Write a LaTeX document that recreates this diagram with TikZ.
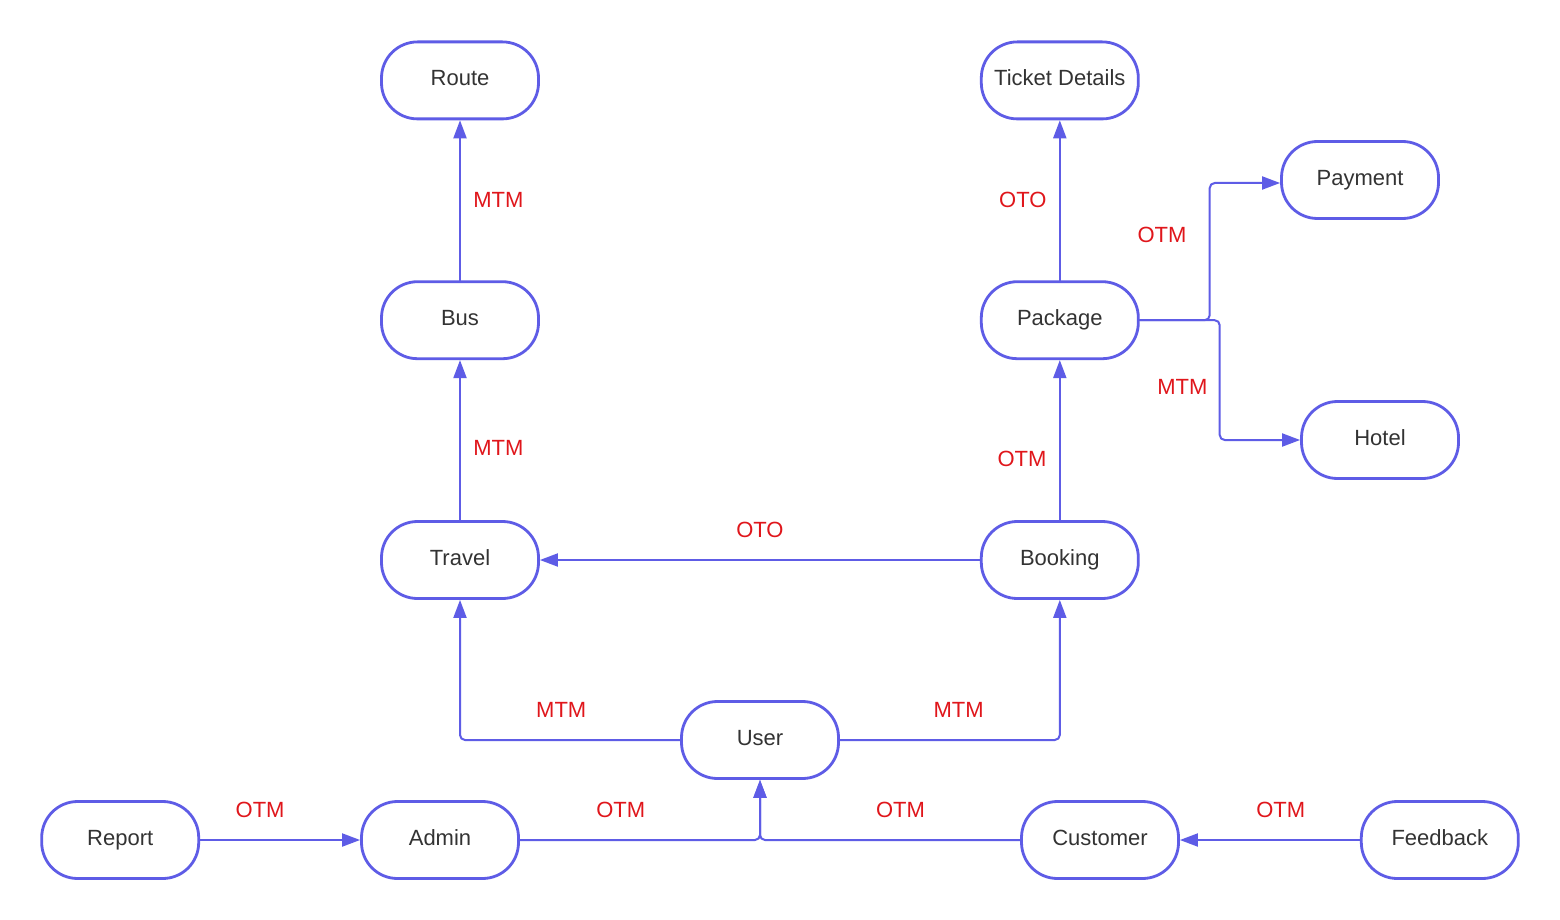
\documentclass[tikz,border=0pt]{standalone}
\usepackage{fontspec}
\setmainfont{Liberation Sans}
\usetikzlibrary{arrows.meta,positioning}

\definecolor{edgeblue}{HTML}{5E5CE6}
\definecolor{labelred}{HTML}{E0161B}
\definecolor{textgray}{HTML}{333333}

\begin{document}
\begin{tikzpicture}[
    x=1pt, y=-1pt,
    >={Triangle[length=18pt,width=13pt]},
    font=\fontsize{22}{26}\selectfont,
    line join=round,
    line cap=round,
    entity/.style={
        draw=edgeblue,
        line width=2.8pt,
        rectangle,
        rounded corners=36pt,
        minimum width=157pt,
        minimum height=77pt,
        text height=15.5pt,
        text depth=4.5pt,
        fill=white,
        text=textgray
    },
    link/.style={->, draw=edgeblue, line width=2pt, rounded corners=5pt},
    card/.style={text=labelred}
]

\fill[white] (0,0) rectangle (1560,920);
\useasboundingbox (0,0) rectangle (1560,920);

% =========================
% Entities
% =========================
\node[entity] (travel) at (460,560) {Travel};
\node[entity, above=160pt of travel] (bus) {Bus};
\node[entity, above=160pt of bus] (route) {Route};

\node[entity, right=440pt of travel] (booking) {Booking};
\node[entity, above=160pt of booking] (package) {Package};
\node[entity, above=160pt of package] (ticket) {Ticket Details};

\node[entity] (payment) at (1360,180) {Payment};
\node[entity] (hotel) at (1380,440) {Hotel};

\node[entity] (user) at (760,740) {User};

\node[entity] (admin) at (440,840) {Admin};
\node[entity, left=160pt of admin] (report) {Report};
\node[entity] (customer) at (1100,840) {Customer};
\node[entity, right=180pt of customer] (feedback) {Feedback};

% =========================
% Left column
% =========================
\draw[link] (bus) -- node[card, right=9pt] {MTM} (route);
\draw[link] (travel) -- node[card, pos=.45, right=9pt] {MTM} (bus);
\draw[link] (booking) -- node[card, above=18pt] {OTO} (travel);

% =========================
% Right column
% =========================
\draw[link] (booking) -- node[card, pos=.38, left=9pt] {OTM} (package);
\draw[link] (package) -- node[card, left=9pt] {OTO} (ticket);
\draw[link] (package.east) -- ++(70,0) |- node[card, pos=.31, left=19pt] {OTM} ([yshift=-3pt]payment.west);
\draw[link] (package.east) -- ++(80,0) |- node[card, pos=.28, left=8pt] {MTM} (hotel.west);

% =========================
% User links
% =========================
\draw[link] (user.west) -| node[card, pos=.27, above=18pt] {MTM} (travel.south);
\draw[link] (user.east) -| node[card, pos=.27, above=18pt] {MTM} (booking.south);

% =========================
% Bottom row
% =========================
\draw[link] (report) -- node[card, pos=.375, above=18pt] {OTM} (admin);
\draw[link] (admin.east) -| node[card, pos=.21, above=18pt] {OTM} (user.south);
\draw[link] (customer.west) -| node[card, pos=.23, above=18pt] {OTM} (user.south);
\draw[link] (feedback) -- node[card, pos=.44, above=18pt] {OTM} (customer);

\end{tikzpicture}
\end{document}
